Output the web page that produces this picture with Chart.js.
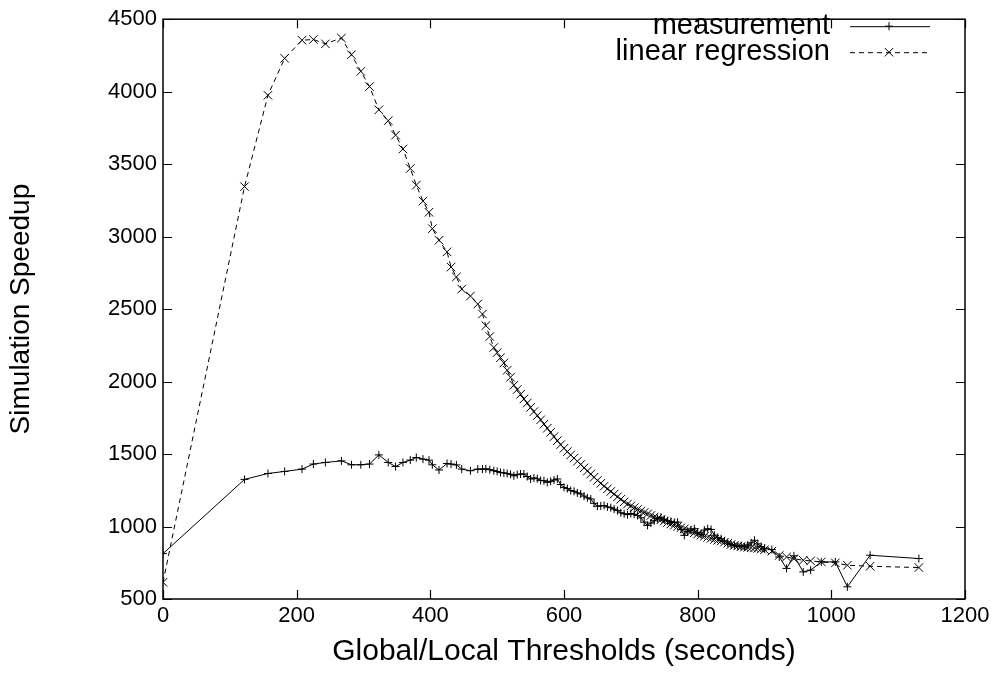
<!DOCTYPE html>
<html><head><meta charset="utf-8">
<script src="https://cdn.jsdelivr.net/npm/chart.js@4"></script>
<style>html,body{margin:0;padding:0;background:#fff}#wrap{width:1006px;height:691px;position:relative}</style>
</head><body><div id="wrap"><canvas id="c"></canvas></div>
<script>
const xValues = [0,122,157,182,208,225,243,267,282,296,309,323,337,348,359,370,379,389,398,403,413,425,431,439,447,460,471,478,483,489,495,
500,505,510,515,520,525,530,535,540,545,550,555,560,565,570,575,580,585,590,595,
600,605,610,615,620,625,630,635,640,645,650,655,660,665,670,675,680,685,690,695,
700,705,710,715,720,725,730,735,740,745,750,755,760,765,770,775,780,785,790,795,
800,805,810,815,820,825,830,835,840,845,850,855,860,865,870,875,880,885,890,895,900,
911,922,933,944,958,969,985,1006,1024,1058,1131];
const measurement = [813,1325,1366,1380,1396,1431,1442,1453,1426,1426,1431,1494,1442,1414,1442,1458,1476,1465,1458,1426,1390,1435,1431,1425,1396,1385,1396,1396,1398,1392,1385,
1380,1373,1370,1366,1360,1350,1358,1362,1362,1345,1328,1335,1330,1318,1316,1305,1312,1321,1328,1290,
1270,1262,1248,1243,1232,1225,1210,1198,1190,1160,1140,1142,1145,1135,1130,1120,1110,1095,1088,1082,
1090,1085,1076,1060,1030,1008,1024,1040,1055,1064,1050,1040,1035,1028,1030,980,939,965,975,985,
960,945,975,985,980,940,925,916,900,885,875,870,862,868,860,872,888,905,880,862,850,
841,790,711,798,687,699,756,756,584,802,779];
const regression = [615,3345,3975,4230,4355,4360,4330,4370,4255,4140,4035,3875,3800,3700,3605,3470,3355,3245,3168,3055,2975,2895,2790,2722,2638,2590,2535,2466,2386,2311,2235,
2200,2165,2128,2078,2030,1975,1945,1912,1880,1852,1822,1793,1765,1736,1706,1678,1650,1620,1592,1565,
1540,1517,1494,1472,1450,1428,1405,1383,1362,1340,1318,1298,1278,1260,1242,1224,1205,1188,1170,1155,
1142,1130,1118,1107,1097,1087,1076,1066,1056,1047,1038,1028,1018,1009,1000,992,984,975,966,957,
948,940,932,925,918,911,905,900,892,885,876,870,866,862,858,856,854,852,849,845,840,
830,800,790,778,767,763,756,749,733,726,717];
const seriesNames = ['measurement', 'linear regression'];
const xTitle = 'Global/Local Thresholds (seconds)';
const yTitle = 'Simulation Speedup';

const FONT = "'Liberation Sans', Arial, Helvetica, sans-serif";
const TICK_FS = 22;
const KEY_FS = 29;

const pts = ys => xValues.map((x, i) => ({x, y: ys[i]}));

const boxPlugin = {
  id: 'gnuBox',
  afterDraw(chart) {
    const {ctx, chartArea: a, scales: {x, y}} = chart;
    ctx.save();
    ctx.strokeStyle = '#000';
    ctx.lineWidth = 1.5;
    ctx.strokeRect(a.left, a.top, a.right - a.left, a.bottom - a.top);
    ctx.lineWidth = 1.2;
    ctx.beginPath();
    x.ticks.forEach(t => {
      const p = Math.round(x.getPixelForValue(t.value)) + 0.5;
      ctx.moveTo(p, a.bottom); ctx.lineTo(p, a.bottom - 9);
      ctx.moveTo(p, a.top); ctx.lineTo(p, a.top + 9);
    });
    y.ticks.forEach(t => {
      const p = Math.round(y.getPixelForValue(t.value)) + 0.5;
      ctx.moveTo(a.left, p); ctx.lineTo(a.left + 9, p);
      ctx.moveTo(a.right, p); ctx.lineTo(a.right - 9, p);
    });
    ctx.stroke();
    // key
    chart.data.datasets.forEach((ds, i) => {
      const yy = a.top + 7 + i * 26;
      ctx.font = KEY_FS + 'px ' + FONT;
      ctx.fillStyle = '#000';
      ctx.textAlign = 'right';
      ctx.textBaseline = 'middle';
      ctx.fillText(ds.label, a.right - 135, yy);
      ctx.beginPath();
      ctx.lineWidth = 1;
      ctx.setLineDash(ds.borderDash || []);
      ctx.moveTo(a.right - 115, yy + 0.5);
      ctx.lineTo(a.right - 35, yy + 0.5);
      ctx.stroke();
      ctx.setLineDash([]);
      Chart.helpers.drawPoint(ctx, {pointStyle: ds.pointStyle, radius: ds.pointRadius, borderWidth: 1, rotation: 0}, a.right - 76, yy);
    });
    ctx.restore();
  }
};

new Chart(document.getElementById('c'), {
  type: 'line',
  data: {
    datasets: [
      {label: seriesNames[0], data: pts(measurement), borderColor: '#000', backgroundColor: '#000', borderWidth: 1,
       pointStyle: 'cross', pointRadius: 4, pointBorderWidth: 1, pointBorderColor: '#000', tension: 0, fill: false},
      {label: seriesNames[1], data: pts(regression), borderColor: '#000', backgroundColor: '#000', borderWidth: 1,
       borderDash: [5, 4], pointStyle: 'crossRot', pointRadius: 6, pointBorderWidth: 1, pointBorderColor: '#000', tension: 0, fill: false}
    ]
  },
  options: {
    responsive: true,
    maintainAspectRatio: false,
    animation: false,
    layout: {padding: {top: 16, right: 41, left: 0, bottom: 0}},
    plugins: {legend: {display: false}, tooltip: {enabled: false}},
    scales: {
      x: {
        type: 'linear', min: 0, max: 1200,
        ticks: {stepSize: 200, color: '#000', font: {family: FONT, size: TICK_FS}, padding: 4, maxRotation: 0,
                callback: v => String(v)},
        grid: {display: false, drawTicks: false},
        border: {display: false},
        title: {display: true, text: xTitle, color: '#000', font: {family: FONT, size: 30}, padding: {top: 0, bottom: 21}},
        afterFit: s => { s.height = 92; }
      },
      y: {
        type: 'linear', min: 500, max: 4500,
        ticks: {stepSize: 500, color: '#000', font: {family: FONT, size: TICK_FS}, padding: 6,
                callback: v => String(v)},
        grid: {display: false, drawTicks: false},
        border: {display: false},
        title: {display: true, text: yTitle, color: '#000', font: {family: FONT, size: 28}, padding: {top: 4, bottom: 0}},
        afterFit: s => { s.width = 163; }
      }
    }
  },
  plugins: [boxPlugin]
});
</script></body></html>
